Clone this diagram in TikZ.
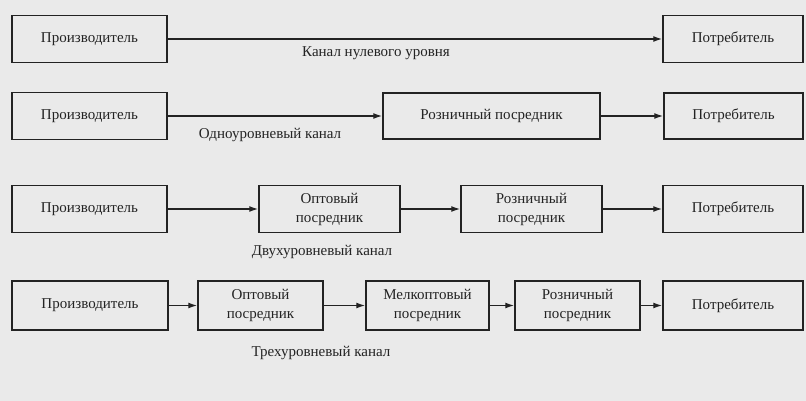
\documentclass[tikz,border=0pt]{standalone}
\usepackage{fontspec}
\setmainfont{Liberation Serif}
\usetikzlibrary{arrows.meta}
\definecolor{paper}{RGB}{234,234,234}
\definecolor{ink}{RGB}{35,35,35}
\tikzset{
  unitbox/.style={draw=ink,line width=1.5pt,align=center,inner sep=2pt,
    font=\fontsize{15}{19}\selectfont,text=ink},
  flow/.style={draw=ink,line width=1.4pt,-{Latex[length=9pt,width=6pt]}},
  chanlabel/.style={font=\fontsize{15}{19}\selectfont,text=ink},
}
\newcommand{\ubox}[6]{\node[unitbox,minimum width=#4,minimum height=#5] (#1) at (#2,#3) {#6};}

\begin{document}
\begin{tikzpicture}[x=1pt,y=-1pt]
  \fill[paper] (0,0) rectangle (806,401);
  \useasboundingbox (0,0) rectangle (806,401);
  % zero level
  \ubox{pa}{89.5}{39}{155}{47}{Производитель}
  \ubox{ca}{733}{39}{140}{47}{Потребитель}
  \draw[flow] (pa) -- (ca);
  \node[chanlabel] (la) at (376,53) {Канал нулевого уровня};
  % one level
  \ubox{pb}{89.5}{116}{155}{47}{Производитель}
  \ubox{rb}{491.5}{116}{217}{46}{Розничный посредник}
  \ubox{cb}{733.5}{116}{139}{46}{Потребитель}
  \draw[flow] (pb) -- (rb);
  \draw[flow] (rb) -- (cb);
  \node[chanlabel] (lb) at (270,135) {Одноуровневый канал};
  % two levels
  \ubox{pc}{89.5}{209}{155}{47}{Производитель}
  \ubox{wc}{329.5}{209}{141}{47}{Оптовый\\посредник}
  \ubox{rc}{531.5}{209}{141}{47}{Розничный\\посредник}
  \ubox{cc}{733}{209}{140}{47}{Потребитель}
  \foreach \a/\b in {pc/wc,wc/rc,rc/cc} \draw[flow] (\a) -- (\b);
  \node[chanlabel] (lc) at (322,252) {Двухуровневый канал};
  % three levels
  \ubox{pd}{90}{305.5}{156}{49}{Производитель}
  \ubox{wd}{260.5}{305.5}{125}{49}{Оптовый\\посредник}
  \ubox{sd}{427.5}{305.5}{123}{49}{Мелкоптовый\\посредник}
  \ubox{rd}{577.5}{305.5}{125}{49}{Розничный\\посредник}
  \ubox{cd}{733}{305.5}{140}{49}{Потребитель}
  \foreach \a/\b in {pd/wd,wd/sd,sd/rd,rd/cd} \draw[flow] (\a) -- (\b);
  \node[chanlabel] (ld) at (321,353) {Трехуровневый канал};
\end{tikzpicture}
\end{document}
